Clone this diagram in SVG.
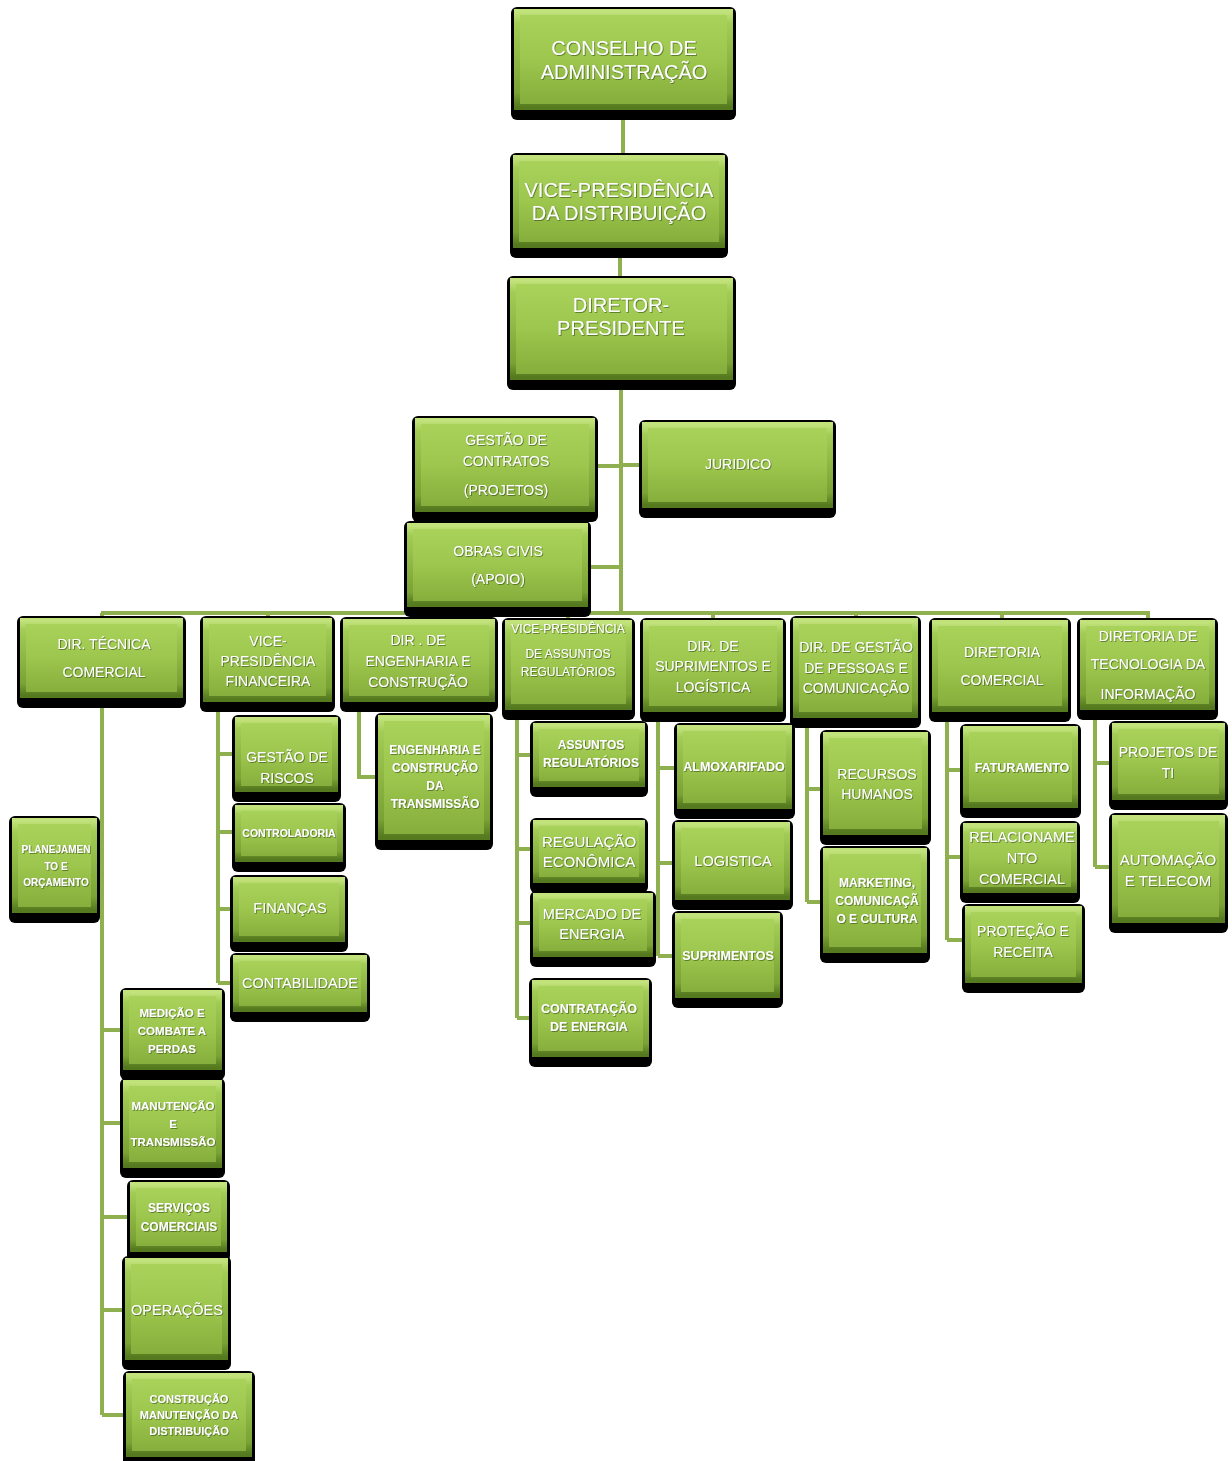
<svg xmlns="http://www.w3.org/2000/svg" width="1232" height="1461" viewBox="0 0 1232 1461">
<defs>
<linearGradient id="face" x1="0" y1="0" x2="0" y2="1">
<stop offset="0" stop-color="#a9d35a"/><stop offset="0.5" stop-color="#9cc64d"/><stop offset="1" stop-color="#84ac3b"/>
</linearGradient>
<linearGradient id="edge" x1="0" y1="0" x2="0" y2="1">
<stop offset="0" stop-color="#c2e27c"/><stop offset="0.12" stop-color="#a2cc55"/><stop offset="0.85" stop-color="#7aa234"/><stop offset="1" stop-color="#55791f"/>
</linearGradient>
<filter id="ts" x="-10%" y="-30%" width="120%" height="160%">
<feDropShadow dx="0.8" dy="0.8" stdDeviation="0.6" flood-color="#2f4510" flood-opacity="0.7"/>
</filter>
</defs>
<style>
.sh{fill:#000}
.bx{fill:url(#face);stroke:url(#edge);stroke-width:6}
.c{fill:none;stroke:#8fb04e;stroke-width:4}
text{font-family:"Liberation Sans",Arial,sans-serif;fill:#fff;text-anchor:middle;dominant-baseline:central;filter:url(#ts)}
.b{font-weight:bold}
</style>
<rect width="1232" height="1461" fill="#fff"/>
<g id="connectors">
<path class="c" d="M623 110V155M620 248V278M621 380V613M595 466H621M621 465H642M588 567H621"/>
<path class="c" d="M101 613H1150M102 613V620M268 613V620M418 613V620M568 613V622M713 613V622M856 613V620M1002 613V622M1148 613V622"/>
<path class="c" d="M102 698V1415M97 867H102M102 1030H123M102 1123H123M102 1217H130M102 1310H125M102 1415H126"/>
<path class="c" d="M218 702V983M218 754H235M218 832H235M218 909H233M218 983H233"/>
<path class="c" d="M359 702V777H378"/>
<path class="c" d="M517 710V1018M517 755H533M517 849H533M517 923H533M517 1018H532"/>
<path class="c" d="M658 712V956M658 768H677M658 863H675M658 956H675"/>
<path class="c" d="M807 718V902M807 789H823M807 902H823"/>
<path class="c" d="M947 712V940M947 770H963M947 857H963M947 940H965"/>
<path class="c" d="M1095 710V867M1095 763H1112M1095 867H1112"/>
</g>
<g id="n-conselho"><rect class="sh" x="511" y="7" width="225" height="113" rx="6"/><rect class="bx" x="517" y="12" width="213" height="95"/><text x="624" y="48" font-size="20">CONSELHO DE</text><text x="624" y="72" font-size="20">ADMINISTRAÇÃO</text></g>
<g id="n-vpdist"><rect class="sh" x="510" y="153" width="218" height="105" rx="6"/><rect class="bx" x="516" y="158" width="206" height="87"/><text x="619" y="190" font-size="20">VICE-PRESIDÊNCIA</text><text x="619" y="213" font-size="20">DA DISTRIBUIÇÃO</text></g>
<g id="n-diretor"><rect class="sh" x="507" y="276" width="229" height="114" rx="6"/><rect class="bx" x="513" y="281" width="217" height="96"/><text x="621" y="305" font-size="20">DIRETOR-</text><text x="621" y="328" font-size="20">PRESIDENTE</text></g>
<g id="n-gestcontratos"><rect class="sh" x="412" y="416" width="186" height="106" rx="6"/><rect class="bx" x="418" y="421" width="174" height="88"/><text x="506" y="440" font-size="14">GESTÃO DE</text><text x="506" y="461" font-size="14">CONTRATOS</text><text x="506" y="490" font-size="14">(PROJETOS)</text></g>
<g id="n-juridico"><rect class="sh" x="639" y="420" width="197" height="98" rx="6"/><rect class="bx" x="645" y="425" width="185" height="80"/><text x="738" y="464" font-size="14">JURIDICO</text></g>
<g id="n-obras"><rect class="sh" x="404" y="521" width="187" height="96" rx="6"/><rect class="bx" x="410" y="526" width="175" height="78"/><text x="498" y="551" font-size="14">OBRAS CIVIS</text><text x="498" y="579" font-size="14">(APOIO)</text></g>
<g id="n-dirtecnica"><rect class="sh" x="17" y="616" width="169" height="92" rx="6"/><rect class="bx" x="23" y="621" width="157" height="74"/><text x="104" y="644" font-size="14">DIR. TÉCNICA</text><text x="104" y="672" font-size="14">COMERCIAL</text></g>
<g id="n-vpfin"><rect class="sh" x="200" y="616" width="135" height="96" rx="6"/><rect class="bx" x="206" y="621" width="123" height="78"/><text x="268" y="641" font-size="14">VICE-</text><text x="268" y="661" font-size="14">PRESIDÊNCIA</text><text x="268" y="681" font-size="14">FINANCEIRA</text></g>
<g id="n-direng"><rect class="sh" x="340" y="617" width="158" height="95" rx="6"/><rect class="bx" x="346" y="622" width="146" height="77"/><text x="418" y="640" font-size="14">DIR . DE</text><text x="418" y="661" font-size="14">ENGENHARIA E</text><text x="418" y="682" font-size="14">CONSTRUÇÃO</text></g>
<g id="n-vpreg"><rect class="sh" x="502" y="618" width="133" height="102" rx="6"/><rect class="bx" x="508" y="623" width="121" height="84"/><text x="568" y="629" font-size="12">VICE-PRESIDÊNCIA</text><text x="568" y="654" font-size="12">DE ASSUNTOS</text><text x="568" y="672" font-size="12">REGULATÓRIOS</text></g>
<g id="n-dirsup"><rect class="sh" x="640" y="618" width="146" height="104" rx="6"/><rect class="bx" x="646" y="623" width="134" height="86"/><text x="713" y="646" font-size="14">DIR. DE</text><text x="713" y="666" font-size="14">SUPRIMENTOS E</text><text x="713" y="687" font-size="14">LOGÍSTICA</text></g>
<g id="n-dirpessoas"><rect class="sh" x="790" y="616" width="131" height="112" rx="6"/><rect class="bx" x="796" y="621" width="119" height="94"/><text x="856" y="647" font-size="14">DIR. DE  GESTÃO</text><text x="856" y="668" font-size="14">DE PESSOAS E</text><text x="856" y="688" font-size="14">COMUNICAÇÃO</text></g>
<g id="n-dircomercial"><rect class="sh" x="929" y="618" width="142" height="104" rx="6"/><rect class="bx" x="935" y="623" width="130" height="86"/><text x="1002" y="652" font-size="14">DIRETORIA</text><text x="1002" y="680" font-size="14">COMERCIAL</text></g>
<g id="n-dirti"><rect class="sh" x="1077" y="618" width="141" height="102" rx="6"/><rect class="bx" x="1083" y="623" width="129" height="84"/><text x="1148" y="636" font-size="14">DIRETORIA DE</text><text x="1148" y="664" font-size="14">TECNOLOGIA DA</text><text x="1148" y="694" font-size="14">INFORMAÇÃO</text></g>
<g id="n-planejamento"><rect class="sh" x="9" y="816" width="91" height="107" rx="6"/><rect class="bx" x="15" y="821" width="79" height="89"/><text class="b" x="56" y="849" font-size="10">PLANEJAMEN</text><text class="b" x="56" y="866" font-size="10">TO E</text><text class="b" x="56" y="882" font-size="10">ORÇAMENTO</text></g>
<g id="n-medicao"><rect class="sh" x="120" y="988" width="105" height="92" rx="6"/><rect class="bx" x="126" y="993" width="93" height="74"/><text class="b" x="172" y="1013" font-size="11.5">MEDIÇÃO E</text><text class="b" x="172" y="1031" font-size="11.5">COMBATE A</text><text class="b" x="172" y="1049" font-size="11.5">PERDAS</text></g>
<g id="n-manutencao"><rect class="sh" x="120" y="1078" width="105" height="100" rx="6"/><rect class="bx" x="126" y="1083" width="93" height="82"/><text class="b" x="173" y="1106" font-size="11.5">MANUTENÇÃO</text><text class="b" x="173" y="1124" font-size="11.5">E</text><text class="b" x="173" y="1142" font-size="11.5">TRANSMISSÃO</text></g>
<g id="n-servicos"><rect class="sh" x="127" y="1180" width="103" height="82" rx="6"/><rect class="bx" x="133" y="1185" width="91" height="64"/><text class="b" x="179" y="1208" font-size="12">SERVIÇOS</text><text class="b" x="179" y="1227" font-size="12">COMERCIAIS</text></g>
<g id="n-operacoes"><rect class="sh" x="122" y="1256" width="109" height="114" rx="6"/><rect class="bx" x="128" y="1261" width="97" height="96"/><text x="177" y="1310" font-size="14.5">OPERAÇÕES</text></g>
<g id="n-construcao"><rect class="sh" x="123" y="1371" width="132" height="96" rx="6"/><rect class="bx" x="129" y="1376" width="120" height="78"/><text class="b" x="189" y="1399" font-size="11">CONSTRUÇÃO</text><text class="b" x="189" y="1415" font-size="11">MANUTENÇÃO DA</text><text class="b" x="189" y="1431" font-size="11">DISTRIBUIÇÃO</text></g>
<g id="n-riscos"><rect class="sh" x="232" y="715" width="109" height="87" rx="6"/><rect class="bx" x="238" y="720" width="97" height="69"/><text x="287" y="757" font-size="14">GESTÃO DE</text><text x="287" y="778" font-size="14">RISCOS</text></g>
<g id="n-controladoria"><rect class="sh" x="232" y="803" width="114" height="69" rx="6"/><rect class="bx" x="238" y="808" width="102" height="51"/><text class="b" x="289" y="833" font-size="10.5">CONTROLADORIA</text></g>
<g id="n-financas"><rect class="sh" x="230" y="875" width="118" height="77" rx="6"/><rect class="bx" x="236" y="880" width="106" height="59"/><text x="290" y="908" font-size="14.5">FINANÇAS</text></g>
<g id="n-contabilidade"><rect class="sh" x="230" y="953" width="140" height="69" rx="6"/><rect class="bx" x="236" y="958" width="128" height="51"/><text x="300" y="983" font-size="14.5">CONTABILIDADE</text></g>
<g id="n-engtrans"><rect class="sh" x="375" y="713" width="118" height="137" rx="6"/><rect class="bx" x="381" y="718" width="106" height="119"/><text class="b" x="435" y="750" font-size="12">ENGENHARIA E</text><text class="b" x="435" y="768" font-size="12">CONSTRUÇÃO</text><text class="b" x="435" y="786" font-size="12">DA</text><text class="b" x="435" y="804" font-size="12">TRANSMISSÃO</text></g>
<g id="n-assuntos"><rect class="sh" x="530" y="721" width="118" height="76" rx="6"/><rect class="bx" x="536" y="726" width="106" height="58"/><text class="b" x="591" y="745" font-size="12">ASSUNTOS</text><text class="b" x="591" y="763" font-size="12">REGULATÓRIOS</text></g>
<g id="n-regulacao"><rect class="sh" x="530" y="818" width="118" height="75" rx="6"/><rect class="bx" x="536" y="823" width="106" height="57"/><text x="589" y="841" font-size="15">REGULAÇÃO</text><text x="589" y="861" font-size="15">ECONÔMICA</text></g>
<g id="n-mercado"><rect class="sh" x="530" y="891" width="126" height="76" rx="6"/><rect class="bx" x="536" y="896" width="114" height="58"/><text x="592" y="914" font-size="14.5">MERCADO DE</text><text x="592" y="934" font-size="14.5">ENERGIA</text></g>
<g id="n-contratacao"><rect class="sh" x="529" y="978" width="123" height="89" rx="6"/><rect class="bx" x="535" y="983" width="111" height="71"/><text class="b" x="589" y="1009" font-size="12.5">CONTRATAÇÃO</text><text class="b" x="589" y="1027" font-size="12.5">DE ENERGIA</text></g>
<g id="n-almoxarifado"><rect class="sh" x="674" y="723" width="121" height="96" rx="6"/><rect class="bx" x="680" y="728" width="109" height="78"/><text class="b" x="734" y="767" font-size="12.5">ALMOXARIFADO</text></g>
<g id="n-logistica"><rect class="sh" x="672" y="820" width="121" height="90" rx="6"/><rect class="bx" x="678" y="825" width="109" height="72"/><text x="733" y="861" font-size="14.5">LOGISTICA</text></g>
<g id="n-suprimentos"><rect class="sh" x="672" y="911" width="111" height="97" rx="6"/><rect class="bx" x="678" y="916" width="99" height="79"/><text class="b" x="728" y="956" font-size="12.5">SUPRIMENTOS</text></g>
<g id="n-rh"><rect class="sh" x="820" y="730" width="111" height="115" rx="6"/><rect class="bx" x="826" y="735" width="99" height="97"/><text x="877" y="774" font-size="14">RECURSOS</text><text x="877" y="794" font-size="14">HUMANOS</text></g>
<g id="n-marketing"><rect class="sh" x="820" y="846" width="110" height="117" rx="6"/><rect class="bx" x="826" y="851" width="98" height="99"/><text class="b" x="877" y="883" font-size="12">MARKETING,</text><text class="b" x="877" y="901" font-size="12">COMUNICAÇÃ</text><text class="b" x="877" y="919" font-size="12">O E CULTURA</text></g>
<g id="n-faturamento"><rect class="sh" x="960" y="724" width="121" height="94" rx="6"/><rect class="bx" x="966" y="729" width="109" height="76"/><text class="b" x="1022" y="768" font-size="12.5">FATURAMENTO</text></g>
<g id="n-relacionamento"><rect class="sh" x="960" y="821" width="120" height="82" rx="6"/><rect class="bx" x="966" y="826" width="108" height="64"/><text x="1022" y="837" font-size="14.5">RELACIONAME</text><text x="1022" y="858" font-size="14.5">NTO</text><text x="1022" y="879" font-size="14.5">COMERCIAL</text></g>
<g id="n-protecao"><rect class="sh" x="962" y="904" width="123" height="89" rx="6"/><rect class="bx" x="968" y="909" width="111" height="71"/><text x="1023" y="931" font-size="14">PROTEÇÃO E</text><text x="1023" y="952" font-size="14">RECEITA</text></g>
<g id="n-projetosti"><rect class="sh" x="1109" y="721" width="119" height="89" rx="6"/><rect class="bx" x="1115" y="726" width="107" height="71"/><text x="1168" y="752" font-size="14">PROJETOS DE</text><text x="1168" y="773" font-size="14">TI</text></g>
<g id="n-automacao"><rect class="sh" x="1109" y="813" width="119" height="120" rx="6"/><rect class="bx" x="1115" y="818" width="107" height="102"/><text x="1168" y="859" font-size="15">AUTOMAÇÃO</text><text x="1168" y="880" font-size="15">E TELECOM</text></g>
</svg>
